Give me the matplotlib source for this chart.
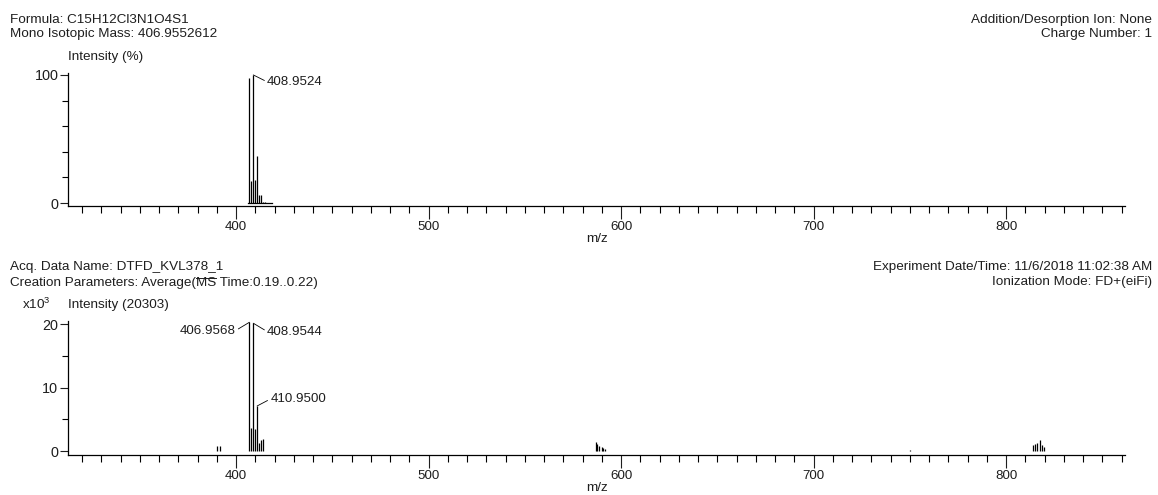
import matplotlib
matplotlib.use("Agg")
import matplotlib.pyplot as plt
from matplotlib.lines import Line2D
from matplotlib.ticker import MultipleLocator

plt.rcParams['font.family'] = ['Liberation Sans', 'DejaVu Sans']
plt.rcParams['mathtext.fontset'] = 'custom'
plt.rcParams['mathtext.rm'] = 'Liberation Sans'
plt.rcParams['mathtext.it'] = 'Liberation Sans'

# theoretical isotope pattern (top panel, % intensity)
theo_mz = [406.955, 407.958, 408.952, 409.955, 410.949, 411.952, 412.946, 413.949, 414.943]
theo_int = [97.5, 17.5, 100.0, 18.0, 37.0, 6.5, 6.0, 1.2, 0.6]
theo_label_mz = 408.9524
theo_label = "408.9524"

# measured spectrum (bottom panel, counts)
exp_mz = [390.2, 391.9, 406.9568, 407.960, 408.9544, 409.957, 410.9500, 411.953, 412.947,
          413.950, 587.0, 587.7, 588.4, 590.0, 590.8, 591.7, 749.9,
          813.9, 815.1, 816.3, 817.7, 818.9, 819.9]
exp_int = [800, 800, 20303, 3700, 20150, 3500, 7100, 1300, 1700,
           1900, 1450, 1050, 800, 650, 500, 350, 200,
           1000, 1150, 1300, 1800, 950, 700]
exp_labels = ["406.9568", "408.9544", "410.9500"]

header_top_left = ["Formula: C15H12Cl3N1O4S1", "Mono Isotopic Mass: 406.9552612"]
header_top_right = ["Addition/Desorption Ion: None", "Charge Number: 1"]
header_bot_left = ["Acq. Data Name: DTFD_KVL378_1",
                   "Creation Parameters: Average(MS Time:0.19..0.22)"]
header_bot_right = ["Experiment Date/Time: 11/6/2018 11:02:38 AM", "Ionization Mode: FD+(eiFi)"]

W, H = 1158, 495
tc = '#1e1e1e'
fs = 9.7

fig = plt.figure(figsize=(W / 100, H / 100), dpi=100)


def fy(y):
    return 1 - y / H


def fx(x):
    return x / W


def style_axes(ax):
    for s in ['top', 'right']:
        ax.spines[s].set_visible(False)
    ax.spines['left'].set_linewidth(0.9)
    ax.spines['bottom'].set_linewidth(0.9)
    ax.set_xlim(312.7, 861.8)
    ax.xaxis.set_major_locator(MultipleLocator(100))
    ax.xaxis.set_minor_locator(MultipleLocator(10))
    ax.tick_params(axis='x', which='major', length=9, width=0.8, labelsize=9.6, colors=tc, pad=2)
    ax.tick_params(axis='x', which='minor', length=5, width=0.8)
    ax.tick_params(axis='y', which='major', length=6, width=0.8, labelsize=10.4, colors=tc, pad=1)
    ax.tick_params(axis='y', which='minor', length=4, width=0.8)
    ax.set_xlabel("m/z", fontsize=fs, color=tc, labelpad=0)


# top panel
ax1 = fig.add_axes([fx(68), fy(206), fx(1125) - fx(68), fy(73) - fy(206)])
style_axes(ax1)
ax1.set_ylim(-2.3, 101.5)
ax1.set_yticks([0, 100])
ax1.yaxis.set_minor_locator(MultipleLocator(20))
ax1.vlines(theo_mz, 0, theo_int, color='black', lw=0.9)
ax1.plot([406.0, 418.7], [0, 0], color='black', lw=0.9)
ax1.annotate(theo_label, xy=(theo_label_mz, 100), xytext=(10, -5), textcoords='offset points',
             ha='left', va='center', fontsize=9.6, color=tc,
             arrowprops=dict(arrowstyle='-', lw=0.6, color='black', shrinkA=0, shrinkB=0,
                             relpos=(0, 0.5)))

# bottom panel
ax2 = fig.add_axes([fx(68), fy(455), fx(1125) - fx(68), fy(321) - fy(455)])
style_axes(ax2)
ax2.set_ylim(-630, 20500)
ax2.set_yticks([0, 10000, 20000])
ax2.set_yticklabels(["0", "10", "20"])
ax2.yaxis.set_minor_locator(MultipleLocator(5000))
ax2.vlines(exp_mz, 0, exp_int, color='black', lw=0.9)

label_idx = [exp_mz.index(406.9568), exp_mz.index(408.9544), exp_mz.index(410.9500)]
offsets = [(-10, -6), (10, -6), (9.5, 5)]
for lab, i, (dx, dy) in zip(exp_labels, label_idx, offsets):
    ax2.annotate(lab, xy=(exp_mz[i], exp_int[i]), xytext=(dx, dy), textcoords='offset points',
                 ha='right' if dx < 0 else 'left', va='center', fontsize=9.6, color=tc,
                 arrowprops=dict(arrowstyle='-', lw=0.6, color='black', shrinkA=0, shrinkB=0,
                                 relpos=(1, 0.5) if dx < 0 else (0, 0.5)))

# header texts
fig.text(fx(10), fy(20), header_top_left[0], fontsize=fs, color=tc, va='center')
fig.text(fx(10), fy(34), header_top_left[1], fontsize=fs, color=tc, va='center')
fig.text(fx(1152), fy(20), header_top_right[0], fontsize=fs, color=tc, va='center', ha='right')
fig.text(fx(1152), fy(34), header_top_right[1], fontsize=fs, color=tc, va='center', ha='right')
fig.text(fx(68), fy(57), "Intensity (%)", fontsize=fs, color=tc, va='center')

fig.text(fx(10), fy(267), header_bot_left[0], fontsize=fs, color=tc, va='center')
fig.text(fx(10), fy(283), header_bot_left[1], fontsize=fs, color=tc, va='center')
fig.text(fx(1152), fy(267), header_bot_right[0], fontsize=fs, color=tc, va='center', ha='right')
fig.text(fx(1152), fy(282), header_bot_right[1], fontsize=fs, color=tc, va='center', ha='right')
fig.text(fx(22), fy(304), r"x10$^3$", fontsize=fs, color=tc, va='center')
fig.text(fx(68), fy(305), "Intensity (20303)", fontsize=fs, color=tc, va='center')

# overline above "MS" in the creation parameters line
renderer = fig.canvas.get_renderer()
pre = fig.text(fx(10), fy(283), "Creation Parameters: Average(", fontsize=fs, va='center')
ms = fig.text(fx(10), fy(283), "MS", fontsize=fs, va='center')
x0 = pre.get_window_extent(renderer).x1
wms = ms.get_window_extent(renderer).width
pre.remove()
ms.remove()
ybar = H - 277.5
fig.add_artist(Line2D([x0 / W, (x0 + wms) / W], [ybar / H, ybar / H],
                      transform=fig.transFigure, color=tc, lw=0.7))

fig.savefig("out.png", dpi=100, facecolor='white')
